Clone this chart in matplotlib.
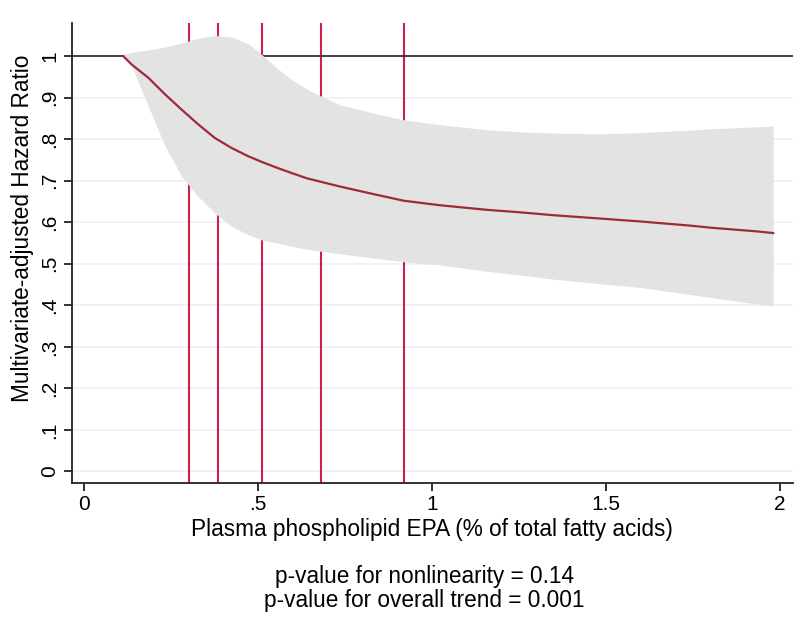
import numpy as np
import matplotlib
matplotlib.use("Agg")
import matplotlib.pyplot as plt

plt.rcParams['font.family'] = ['Liberation Sans', 'DejaVu Sans']

# EPA level (% of total fatty acids) and spline estimates
epa = [0.113, 0.137, 0.185, 0.233, 0.281, 0.328, 0.376, 0.424, 0.472, 0.512,
       0.549, 0.592, 0.640, 0.683, 0.736, 0.831, 0.918, 1.023, 1.157, 1.253,
       1.349, 1.483, 1.598, 1.741, 1.80, 1.934, 1.98]
hr = [1.0, 0.980, 0.948, 0.908, 0.871, 0.836, 0.803, 0.779, 0.759, 0.745,
      0.733, 0.720, 0.706, 0.697, 0.686, 0.668, 0.652, 0.641, 0.630, 0.624,
      0.617, 0.609, 0.602, 0.592, 0.587, 0.578, 0.574]
ci_low = [1.0, 0.976, 0.879, 0.783, 0.710, 0.662, 0.622, 0.590, 0.570, 0.557,
          0.551, 0.543, 0.535, 0.530, 0.524, 0.514, 0.505, 0.497, 0.482, 0.473,
          0.463, 0.452, 0.443, 0.426, 0.419, 0.403, 0.398]
ci_high = [1.003, 1.010, 1.015, 1.022, 1.032, 1.043, 1.050, 1.046, 1.030, 1.003,
           0.975, 0.946, 0.921, 0.903, 0.883, 0.863, 0.847, 0.835, 0.823, 0.818,
           0.815, 0.813, 0.816, 0.822, 0.825, 0.830, 0.832]

# knot / percentile positions (vertical lines)
knots = [0.302, 0.385, 0.512, 0.681, 0.920]

xticks = [0, 0.5, 1, 1.5, 2]
xtick_labels = ['0', '.5', '1', '1.5', '2']
yticks = [0, .1, .2, .3, .4, .5, .6, .7, .8, .9, 1]
ytick_labels = ['0', '.1', '.2', '.3', '.4', '.5', '.6', '.7', '.8', '.9', '1']

fig = plt.figure(figsize=(8.05, 6.2), dpi=100)
ax = fig.add_axes([72/805, 1 - 483/620, (793-72)/805, (483-23)/620])

ax.set_xlim(-0.0345, 2.037)
ax.set_ylim(-0.028, 1.08)

# light grid lines
for y in yticks[:-1]:
    ax.axhline(y, color='#eaf2f3', lw=1.2, zorder=0)

for k in knots:
    ax.axvline(k, color='#d21f48', lw=1.5, zorder=1)

ax.axhline(1, color='#333333', lw=1.3, zorder=2)

ax.fill_between(epa, ci_low, ci_high, color='#e3e3e3', lw=0, zorder=3)
ax.plot(epa, hr, color='#9e2a38', lw=1.6, zorder=4)

ax.set_xticks(xticks)
ax.set_xticklabels(xtick_labels)
ax.set_yticks(yticks)
ax.set_yticklabels(ytick_labels, rotation=90, va='center')

for s in ['top', 'right']:
    ax.spines[s].set_visible(False)
for s in ['left', 'bottom']:
    ax.spines[s].set_color('#222222')
    ax.spines[s].set_linewidth(1.3)

ax.tick_params(axis='both', length=6, width=1.3, color='#222222',
               labelsize=15, pad=3)

ax.set_xlabel('Plasma phospholipid EPA (% of total fatty acids)', fontsize=16.3)
ax.set_ylabel('Multivariate-adjusted Hazard Ratio', fontsize=16.3)
ax.xaxis.set_label_coords(0.4986, -0.102)
ax.yaxis.set_label_coords(-0.069, 0.554)
ax.xaxis.label.set_va('center')
ax.yaxis.label.set_va('center')

fig.text(0.527, 1 - 577/620, 'p-value for nonlinearity = 0.14',
         ha='center', va='center', fontsize=16.3)
fig.text(0.527, 1 - 601/620, 'p-value for overall trend = 0.001',
         ha='center', va='center', fontsize=16.3)

fig.savefig('out.png', dpi=100)
